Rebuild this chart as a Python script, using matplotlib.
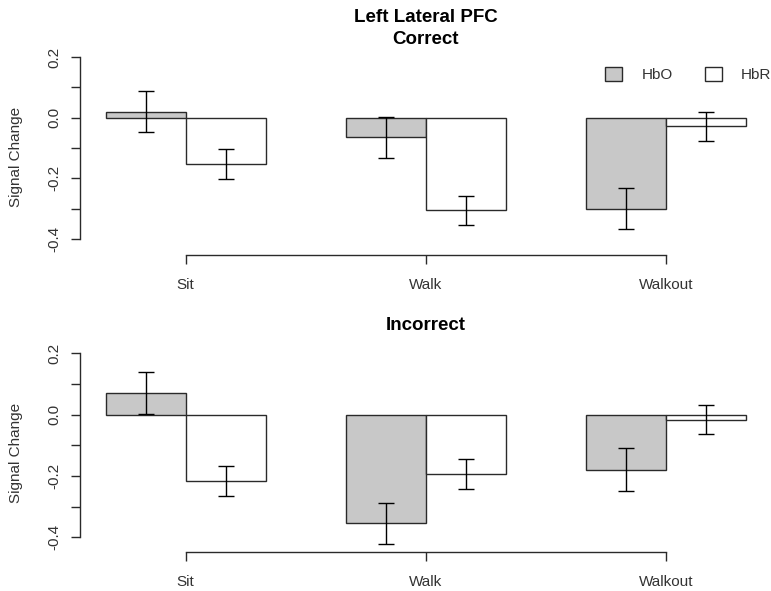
import numpy as np
import matplotlib
matplotlib.use("Agg")
import matplotlib.pyplot as plt
from matplotlib.patches import Patch

plt.rcParams["font.family"] = ["Liberation Sans", "DejaVu Sans"]

conditions = ["Sit", "Walk", "Walkout"]

# Correct trials
correct_hbo = [0.02, -0.065, -0.300]
correct_hbo_se = [0.068, 0.067, 0.068]
correct_hbr = [-0.153, -0.306, -0.029]
correct_hbr_se = [0.049, 0.049, 0.048]

# Incorrect trials
incorrect_hbo = [0.070, -0.355, -0.180]
incorrect_hbo_se = [0.068, 0.068, 0.070]
incorrect_hbr = [-0.217, -0.193, -0.016]
incorrect_hbr_se = [0.048, 0.049, 0.048]

y_ticks = [0.2, 0.1, 0.0, -0.1, -0.2, -0.3, -0.4]
y_labels = ["0.2", "", "0.0", "", "-0.2", "", "-0.4"]

GRAY = "#c8c8c8"
LINE = "#2a2a2a"
TEXT = "#333333"

W, H = 771, 591
fig = plt.figure(figsize=(W / 100, H / 100), dpi=100)


def px_axes(left, top, right, bottom):
    return fig.add_axes([left / W, 1 - bottom / H, (right - left) / W, (bottom - top) / H])


def draw_panel(ax, hbo, hbo_se, hbr, hbr_se, ymin):
    # R barplot(beside=TRUE) layout: bars of width 1, one empty unit between groups
    x = np.arange(len(conditions)) * 3 + 1
    ax.bar(x, hbo, width=1, align="edge", color=GRAY, edgecolor=LINE, linewidth=1.0)
    ax.bar(x + 1, hbr, width=1, align="edge", color="white", edgecolor=LINE, linewidth=1.0)
    ax.errorbar(x + 0.5, hbo, yerr=hbo_se, fmt="none", ecolor="black",
                elinewidth=1.0, capsize=5.5, capthick=1.0)
    ax.errorbar(x + 1.5, hbr, yerr=hbr_se, fmt="none", ecolor="black",
                elinewidth=1.0, capsize=5.5, capthick=1.0)

    ax.set_xlim(0.68, 9.31)
    ax.set_ylim(ymin, 0.224)
    for s in ["top", "right"]:
        ax.spines[s].set_visible(False)
    for s in ["left", "bottom"]:
        ax.spines[s].set_color(LINE)
        ax.spines[s].set_linewidth(1.0)
    ax.spines["left"].set_bounds(-0.4, 0.2)
    ax.spines["bottom"].set_bounds(x[0] + 1, x[-1] + 1)

    ax.set_xticks(x + 1)
    ax.set_xticklabels(conditions)
    ax.set_yticks(y_ticks)
    ax.set_yticklabels(y_labels, rotation=90, va="center")
    ax.tick_params(axis="both", direction="out", length=6.5, width=1.0,
                   color=LINE, labelcolor=TEXT, labelsize=11)
    ax.tick_params(axis="x", pad=10)
    ax.tick_params(axis="y", pad=7)

    ax.set_ylabel("Signal Change", fontsize=11, color=TEXT)
    ax.yaxis.set_label_coords(-0.083, 0.48)


ax1 = px_axes(80, 49.7, 771, 255)
draw_panel(ax1, correct_hbo, correct_hbo_se, correct_hbr, correct_hbr_se, -0.4527)

ax2 = px_axes(80, 345.9, 771, 552.3)
draw_panel(ax2, incorrect_hbo, incorrect_hbo_se, incorrect_hbr, incorrect_hbr_se, -0.449)

fig.text(425.5 / W, 1 - 18 / H, "Left Lateral PFC", ha="center", va="center",
         fontsize=13.5, fontweight="bold", color="black")
fig.text(425.5 / W, 1 - 40 / H, "Correct", ha="center", va="center",
         fontsize=13.5, fontweight="bold", color="black")
fig.text(425.5 / W, 1 - 326 / H, "Incorrect", ha="center", va="center",
         fontsize=13.5, fontweight="bold", color="black")

handles = [Patch(facecolor=GRAY, edgecolor=LINE, linewidth=1.0, label="HbO"),
           Patch(facecolor="white", edgecolor=LINE, linewidth=1.0, label="HbR")]
leg = ax1.legend(handles=handles, ncol=2, frameon=False, fontsize=11,
                 loc="upper right", bbox_to_anchor=(1.0, 0.915),
                 borderaxespad=0, borderpad=0,
                 handlelength=1.1, handleheight=1.0,
                 handletextpad=1.25, columnspacing=2.1)
for t in leg.get_texts():
    t.set_color(TEXT)

fig.savefig("out.png", dpi=100)
